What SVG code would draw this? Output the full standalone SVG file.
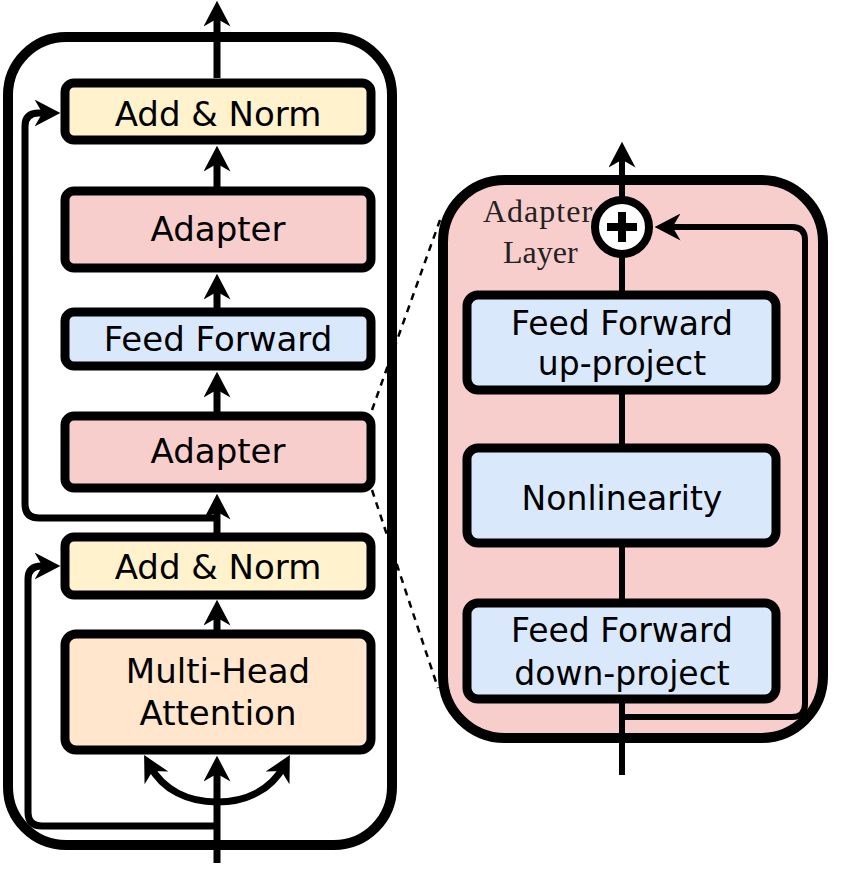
<svg xmlns="http://www.w3.org/2000/svg" width="854" height="878" viewBox="0 0 854 878">
<defs>
<marker id="ah" markerUnits="userSpaceOnUse" markerWidth="27" markerHeight="27" viewBox="0 0 24 24" refX="12" refY="12" orient="auto">
<path d="M0,0 L23,12 L0,24 L7,12 z" fill="#000"/>
</marker>
</defs>
<style>
.box{stroke:#000;stroke-width:9}
.outer{stroke:#000;stroke-width:10}
.norm{fill:#fff2cc}
.adapter{fill:#f8cecc}
.ff{fill:#dae8fc}
.mha{fill:#ffe6cc}
.lbl{font-family:"DejaVu Sans",Verdana,sans-serif;font-size:34px;fill:#000;text-anchor:middle}
.lbl2{font-family:"DejaVu Sans",Verdana,sans-serif;font-size:33px;fill:#000;text-anchor:middle}
.ser{font-family:"Liberation Serif","Times New Roman",serif;font-size:32px;fill:#222}
.ln{fill:none;stroke:#000;stroke-width:7}
.thin{fill:none;stroke:#000;stroke-width:6}
.dash{fill:none;stroke:#000;stroke-width:2.5;stroke-dasharray:7,6}
</style>

<g id="left-block">
<rect x="8" y="37" width="384" height="808" rx="58" fill="#fff" class="outer"/>
</g>

<g id="adapter-panel">
<rect x="443" y="180" width="380" height="558" rx="62" class="outer adapter"/>
</g>

<g id="connectors">
<line x1="217" y1="863" x2="217" y2="768" class="ln" marker-end="url(#ah)"/>
<path d="M217,802 C188,802 163,790 150,766" class="ln" marker-end="url(#ah)"/>
<path d="M217,802 C246,802 271,790 284,766" class="ln" marker-end="url(#ah)"/>
<line x1="217" y1="630" x2="217" y2="612" class="ln" marker-end="url(#ah)"/>
<line x1="217" y1="533" x2="217" y2="506" class="ln" marker-end="url(#ah)"/>
<line x1="217" y1="412" x2="217" y2="384" class="ln" marker-end="url(#ah)"/>
<line x1="217" y1="308" x2="217" y2="286" class="ln" marker-end="url(#ah)"/>
<line x1="217" y1="187" x2="217" y2="158" class="ln" marker-end="url(#ah)"/>
<line x1="217" y1="78" x2="217" y2="13" class="ln" marker-end="url(#ah)"/>
<path d="M217,826 L42,826 Q28,826 28,812 L28,579 Q28,566 42,566 L48,566" class="ln" marker-end="url(#ah)"/>
<path d="M217,518 L39,518 Q25,518 25,504 L25,126 Q25,113 39,113 L48,113" class="ln" marker-end="url(#ah)"/>
<line x1="372" y1="410" x2="440" y2="220" class="dash"/>
<line x1="372" y1="490" x2="438" y2="688" class="dash"/>
<line x1="622" y1="775" x2="622" y2="154" class="thin" marker-end="url(#ah)"/>
<path d="M622,717 L792,717 Q805,717 805,704 L805,240 Q805,227 792,227 L667,227" class="thin" marker-end="url(#ah)"/>
</g>

<g id="add-norm-top">
<rect x="65" y="83" width="306" height="57" rx="9" class="box norm"/>
<text x="218" y="126" class="lbl">Add &amp; Norm</text>
</g>
<g id="adapter-top">
<rect x="65" y="191" width="306" height="77" rx="9" class="box adapter"/>
<text x="218" y="241" class="lbl">Adapter</text>
</g>
<g id="feed-forward">
<rect x="65" y="312" width="306" height="54" rx="9" class="box ff"/>
<text x="218" y="351" class="lbl">Feed Forward</text>
</g>
<g id="adapter-bottom">
<rect x="65" y="416" width="306" height="72" rx="9" class="box adapter"/>
<text x="218" y="463" class="lbl">Adapter</text>
</g>
<g id="add-norm-bottom">
<rect x="65" y="537" width="306" height="58" rx="9" class="box norm"/>
<text x="218" y="579" class="lbl">Add &amp; Norm</text>
</g>
<g id="multi-head-attention">
<rect x="65" y="634" width="306" height="116" rx="11" class="box mha"/>
<text x="218" y="683" class="lbl">Multi-Head</text>
<text x="218" y="725" class="lbl">Attention</text>
</g>

<g id="adapter-layer-label">
<text x="483" y="222" class="ser" letter-spacing="1">Adapter</text>
<text x="503" y="263" class="ser">Layer</text>
</g>
<g id="plus">
<circle cx="622" cy="227" r="27" fill="#fff" stroke="#000" stroke-width="8"/>
<line x1="607" y1="227" x2="637" y2="227" stroke="#000" stroke-width="8"/>
<line x1="622" y1="212" x2="622" y2="242" stroke="#000" stroke-width="8"/>
</g>
<g id="ff-up">
<rect x="467" y="295" width="309" height="95" rx="11" class="box ff"/>
<text x="622" y="335" class="lbl2">Feed Forward</text>
<text x="622" y="375" class="lbl2">up-project</text>
</g>
<g id="nonlinearity">
<rect x="467" y="448" width="309" height="95" rx="11" class="box ff"/>
<text x="622" y="510" class="lbl2">Nonlinearity</text>
</g>
<g id="ff-down">
<rect x="467" y="603" width="309" height="96" rx="11" class="box ff"/>
<text x="622" y="642" class="lbl2">Feed Forward</text>
<text x="622" y="685" class="lbl2">down-project</text>
</g>
</svg>
